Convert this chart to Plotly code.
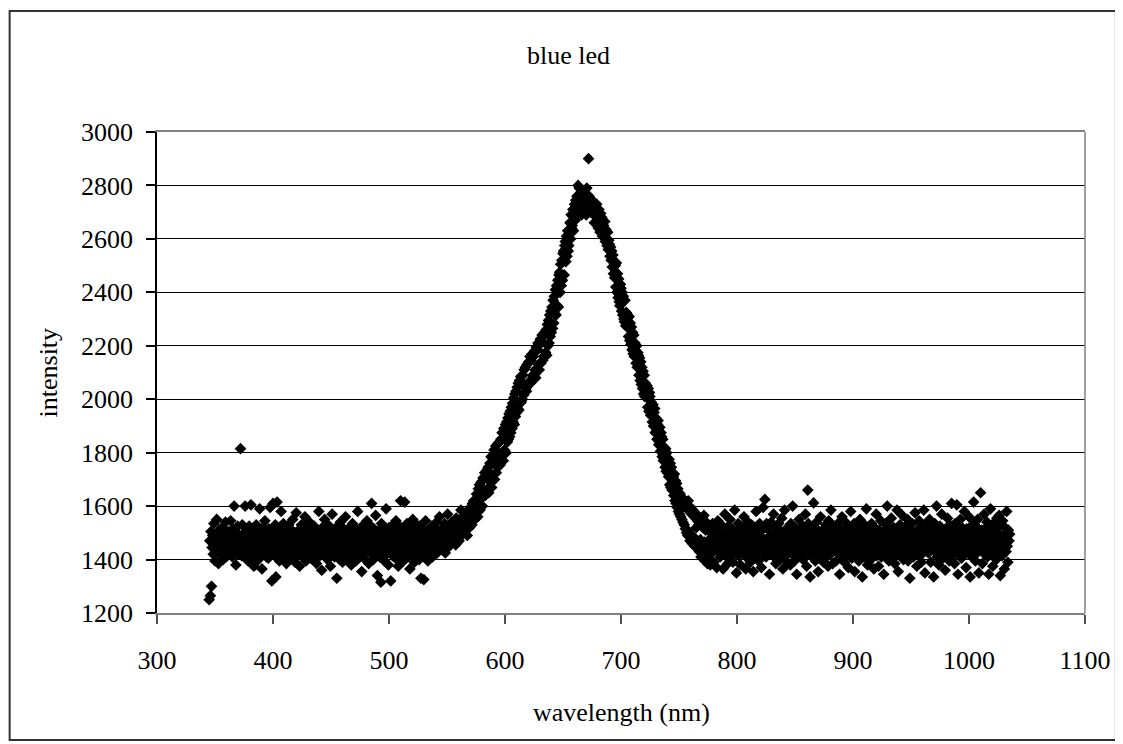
import plotly.graph_objects as go

# ---- data ----
row_start_nm = [345, 355, 365, 375, 385, 395, 405, 415, 425, 435, 445, 455, 465, 475, 485,
                495, 505, 515, 525, 535, 545, 555, 565, 575, 585, 595, 605, 615, 625, 635,
                645, 655, 665, 675, 685, 695, 705, 715, 725, 735, 745, 755, 765, 775, 785,
                795, 805, 815, 825, 835, 845, 855, 865, 875, 885, 895, 905, 915, 925, 935,
                945, 955, 965, 975, 985, 995, 1005, 1015, 1025, 1035]
step_nm = 0.5

intensity_rows = [
    [1250,1470,1265,1505,1300,1445,1490,1420,1535,1460,1395,1480,1430,1550,1440,1475,1385,1510,1455,1425],
    [1485,1415,1520,1450,1400,1495,1465,1430,1540,1410,1460,1490,1440,1505,1425,1475,1450,1545,1420,1465],
    [1410,1515,1455,1600,1435,1480,1380,1495,1445,1525,1420,1470,1490,1440,1815,1460,1415,1530,1475,1430],
    [1500,1445,1600,1405,1465,1510,1450,1395,1485,1525,1430,1470,1605,1450,1410,1500,1460,1375,1490,1455],
    [1440,1530,1415,1475,1505,1400,1460,1590,1435,1495,1450,1365,1480,1520,1425,1465,1545,1430,1480,1410],
    [1495,1450,1405,1515,1460,1595,1425,1485,1320,1505,1610,1445,1470,1415,1530,1335,1455,1615,1490,1430],
    [1475,1395,1510,1450,1580,1420,1490,1440,1535,1405,1465,1500,1445,1385,1495,1470,1425,1530,1460,1415],
    [1515,1445,1405,1480,1550,1430,1470,1500,1390,1455,1575,1440,1485,1420,1510,1460,1375,1490,1435,1530],
    [1455,1410,1505,1475,1425,1560,1445,1395,1495,1465,1520,1420,1480,1540,1435,1405,1490,1455,1510,1400],
    [1465,1525,1425,1495,1450,1385,1505,1470,1435,1580,1455,1415,1500,1470,1360,1520,1440,1485,1425,1550],
    [1480,1415,1510,1455,1400,1530,1465,1435,1495,1375,1505,1445,1570,1420,1485,1460,1410,1515,1450,1495],
    [1330,1470,1525,1430,1485,1400,1540,1455,1440,1500,1390,1475,1515,1445,1415,1560,1460,1425,1495,1450],
    [1515,1405,1470,1500,1440,1380,1490,1535,1430,1475,1415,1520,1455,1395,1505,1445,1580,1420,1480,1465],
    [1415,1505,1450,1355,1495,1460,1530,1425,1475,1400,1515,1450,1545,1435,1485,1385,1500,1470,1425,1525],
    [1610,1445,1490,1400,1515,1455,1430,1565,1465,1495,1340,1480,1440,1510,1410,1460,1315,1535,1435,1485],
    [1450,1515,1395,1475,1445,1590,1420,1495,1460,1380,1520,1430,1485,1320,1505,1450,1415,1530,1470,1440],
    [1500,1405,1545,1455,1430,1505,1375,1480,1525,1445,1620,1465,1420,1515,1450,1395,1495,1615,1440,1475],
    [1430,1535,1460,1410,1500,1470,1365,1515,1450,1485,1420,1550,1440,1475,1390,1505,1455,1415,1530,1465],
    [1440,1495,1400,1525,1450,1330,1490,1465,1425,1515,1325,1475,1445,1545,1415,1485,1460,1395,1510,1450],
    [1470,1430,1500,1450,1525,1410,1480,1460,1515,1440,1495,1465,1540,1425,1485,1510,1445,1560,1460,1495],
    [1475,1440,1515,1465,1500,1450,1535,1425,1490,1515,1460,1570,1445,1505,1480,1525,1460,1495,1540,1470],
    [1500,1465,1535,1485,1520,1455,1555,1495,1475,1530,1510,1470,1545,1500,1585,1490,1525,1505,1560,1515],
    [1535,1505,1575,1525,1555,1490,1580,1540,1565,1520,1595,1550,1580,1530,1610,1560,1620,1575,1550,1610],
    [1580,1645,1600,1560,1665,1605,1680,1585,1640,1690,1630,1600,1705,1640,1660,1725,1640,1710,1655,1735],
    [1665,1745,1650,1725,1760,1690,1785,1670,1780,1715,1765,1810,1700,1775,1825,1725,1805,1745,1835,1750],
    [1765,1840,1755,1850,1785,1875,1795,1770,1890,1810,1870,1905,1800,1915,1840,1930,1850,1945,1860,1955],
    [1875,1970,1890,1985,1915,2005,1905,2020,1935,2030,1950,2045,1965,2060,1960,2070,1985,2085,1990,2065],
    [2000,2090,2015,2110,2025,2120,2040,2030,2130,2050,2055,2140,2065,2160,2060,2145,2075,2170,2090,2160],
    [2090,2180,2110,2080,2195,2115,2185,2210,2130,2110,2205,2225,2135,2215,2240,2145,2235,2160,2250,2165],
    [2175,2260,2165,2280,2200,2295,2210,2315,2235,2330,2250,2345,2265,2370,2285,2385,2320,2410,2315,2425],
    [2350,2445,2345,2465,2475,2400,2505,2425,2520,2445,2545,2555,2465,2575,2590,2515,2610,2535,2630,2555],
    [2575,2620,2660,2600,2690,2640,2650,2710,2630,2700,2730,2670,2745,2690,2760,2715,2800,2735,2790,2700],
    [2720,2770,2690,2745,2780,2710,2735,2700,2760,2725,2690,2790,2740,2705,2900,2760,2715,2750,2700,2730],
    [2745,2700,2735,2690,2660,2720,2705,2660,2730,2685,2700,2640,2710,2670,2625,2695,2650,2680,2610,2665],
    [2650,2620,2665,2590,2635,2600,2575,2625,2560,2595,2580,2535,2570,2520,2555,2495,2540,2470,2515,2455],
    [2500,2420,2510,2400,2470,2380,2450,2365,2350,2430,2415,2330,2400,2315,2385,2300,2290,2370,2275,2325],
    [2320,2270,2305,2235,2310,2220,2285,2205,2270,2185,2250,2170,2240,2160,2210,2165,2135,2200,2120,2175],
    [2165,2090,2155,2070,2140,2055,2120,2040,2105,2020,2090,2010,2060,2015,2015,2050,1970,2040,1955,2025],
    [2010,1940,1990,1945,1915,1980,1900,1950,1965,1875,1930,1880,1850,1905,1920,1830,1880,1895,1805,1875],
    [1860,1785,1850,1770,1820,1775,1745,1815,1730,1800,1725,1765,1710,1775,1680,1760,1670,1745,1660,1710],
    [1710,1640,1720,1620,1695,1610,1685,1595,1665,1580,1650,1570,1645,1560,1635,1550,1625,1540,1615,1530],
    [1600,1515,1615,1500,1590,1490,1620,1505,1580,1470,1595,1495,1570,1460,1585,1485,1560,1450,1575,1475],
    [1520,1460,1545,1445,1530,1430,1555,1475,1410,1535,1455,1520,1420,1565,1465,1395,1510,1540,1440,1385],
    [1470,1405,1525,1450,1380,1500,1460,1425,1535,1480,1390,1465,1515,1440,1495,1370,1475,1545,1430,1460],
    [1500,1410,1470,1530,1425,1480,1365,1495,1450,1570,1415,1485,1440,1520,1385,1460,1505,1435,1550,1475],
    [1410,1515,1455,1390,1495,1445,1585,1425,1480,1350,1505,1465,1535,1415,1485,1450,1380,1525,1470,1430],
    [1495,1440,1560,1420,1475,1365,1510,1455,1405,1540,1480,1435,1500,1390,1460,1530,1420,1490,1355,1470],
    [1520,1450,1415,1580,1465,1425,1505,1395,1485,1535,1440,1460,1370,1510,1450,1595,1420,1475,1625,1440],
    [1410,1535,1470,1520,1430,1485,1345,1505,1455,1540,1420,1480,1445,1570,1410,1500,1460,1385,1525,1450],
    [1475,1425,1535,1455,1400,1505,1440,1555,1470,1365,1495,1430,1585,1460,1415,1515,1450,1390,1490,1465],
    [1505,1435,1380,1535,1475,1420,1600,1455,1495,1395,1520,1445,1470,1345,1510,1485,1430,1550,1450,1410],
    [1445,1480,1510,1525,1400,1465,1500,1430,1570,1450,1375,1495,1660,1535,1420,1485,1335,1515,1445,1460],
    [1490,1415,1612,1465,1520,1395,1455,1540,1435,1485,1355,1505,1450,1415,1560,1475,1430,1500,1460,1390],
    [1515,1450,1405,1530,1470,1425,1495,1375,1545,1445,1480,1420,1585,1455,1510,1385,1465,1525,1435,1490],
    [1450,1395,1505,1460,1535,1425,1475,1345,1515,1450,1410,1560,1485,1435,1505,1390,1455,1540,1470,1420],
    [1495,1445,1370,1525,1465,1430,1580,1450,1405,1510,1475,1435,1535,1355,1490,1460,1415,1520,1440,1500],
    [1395,1470,1550,1425,1485,1450,1335,1505,1460,1410,1530,1475,1440,1590,1450,1380,1500,1465,1430,1515],
    [1455,1400,1535,1480,1420,1495,1365,1520,1445,1470,1570,1415,1485,1450,1375,1510,1465,1440,1545,1410],
    [1475,1505,1435,1345,1490,1455,1535,1415,1465,1600,1440,1500,1395,1515,1450,1425,1555,1470,1405,1485],
    [1520,1445,1385,1505,1460,1425,1585,1475,1355,1495,1450,1530,1415,1480,1440,1565,1460,1400,1510,1450],
    [1415,1525,1470,1440,1550,1395,1490,1455,1330,1505,1465,1430,1535,1475,1410,1500,1450,1575,1440,1485],
    [1375,1510,1450,1420,1545,1470,1440,1495,1390,1520,1460,1425,1585,1480,1350,1505,1450,1440,1535,1465],
    [1425,1490,1550,1440,1390,1515,1465,1450,1500,1335,1475,1535,1430,1460,1600,1410,1505,1450,1380,1485],
    [1525,1455,1425,1570,1470,1405,1500,1445,1485,1360,1515,1465,1420,1555,1450,1495,1395,1530,1460,1435],
    [1610,1475,1415,1510,1455,1385,1535,1485,1440,1605,1465,1345,1505,1450,1425,1550,1480,1405,1520,1450],
    [1470,1420,1580,1460,1495,1370,1515,1445,1480,1425,1560,1450,1335,1505,1470,1410,1530,1460,1615,1435],
    [1490,1395,1525,1455,1425,1550,1475,1350,1500,1450,1650,1440,1510,1385,1485,1460,1570,1420,1515,1465],
    [1440,1540,1410,1480,1345,1510,1455,1590,1430,1495,1465,1375,1535,1450,1420,1520,1475,1400,1555,1450],
    [1500,1425,1565,1460,1340,1530,1475,1415,1545,1445,1490,1365,1520,1465,1430,1580,1450,1390,1510,1470],
    [1495],
]

x_tick_values = [300, 400, 500, 600, 700, 800, 900, 1000, 1100]
y_tick_values = [1200, 1400, 1600, 1800, 2000, 2200, 2400, 2600, 2800, 3000]

wavelength = []
intensity = []
for start, row in zip(row_start_nm, intensity_rows):
    for j, v in enumerate(row):
        wavelength.append(start + step_nm * j)
        intensity.append(v)

FONT = "Liberation Serif, Times New Roman, serif"

fig = go.Figure(go.Scatter(
    x=wavelength, y=intensity, mode="markers",
    marker=dict(symbol="diamond", size=9, color="black", line=dict(width=0)),
    showlegend=False,
))

# page body has an 8px margin; the figure is placed at (8, 8)
OFF = 8
L, R, T, B = 149, 34, 124, 131
W, H = 1115, 736
pw, ph = W - L - R, H - T - B
PL, PB = OFF + L, OFF + H - B   # screen px of plot-area left / bottom

def px(xs):
    return (xs - PL) / pw

def py(ys):
    return (PB - ys) / ph

fig.update_layout(
    width=W, height=H,
    margin=dict(l=L, r=R, t=T, b=B),
    paper_bgcolor="white", plot_bgcolor="white",
    font=dict(family=FONT, size=26, color="black"),
    xaxis=dict(range=[300, 1100], tickvals=x_tick_values, showgrid=False,
               zeroline=False, showline=True, linecolor="#808080", linewidth=1.5,
               mirror=True, ticks="outside", ticklen=9, tickcolor="#505050",
               tickwidth=1.5, tickfont=dict(family=FONT, size=26),
               ticklabelstandoff=14),
    yaxis=dict(range=[1200, 3000], tickvals=y_tick_values, showgrid=True,
               gridcolor="black", gridwidth=1, zeroline=False, showline=True,
               linecolor="black", linewidth=1.5, ticks="outside", ticklen=9,
               tickcolor="black", tickwidth=1.5,
               tickfont=dict(family=FONT, size=26), ticklabelstandoff=8),
    shapes=[
        dict(type="line", xref="paper", yref="paper", x0=1, x1=1, y0=0, y1=1,
             line=dict(color="#808080", width=1.5)),
        dict(type="rect", xref="paper", yref="paper",
             x0=px(9), x1=px(1120), y0=py(740), y1=py(11),
             line=dict(color="#333333", width=2)),
    ],
    annotations=[
        dict(text="blue led", xref="paper", yref="paper", x=px(570), y=py(55),
             xanchor="center", yanchor="middle", showarrow=False,
             font=dict(family=FONT, size=26)),
        dict(text="wavelength (nm)", xref="paper", yref="paper", x=px(623), y=py(712),
             xanchor="center", yanchor="middle", showarrow=False,
             font=dict(family=FONT, size=26)),
        dict(text="intensity", xref="paper", yref="paper", x=px(48), y=py(372),
             xanchor="center", yanchor="middle", showarrow=False, textangle=-90,
             font=dict(family=FONT, size=26)),
    ],
)

fig.write_html("out.html")
